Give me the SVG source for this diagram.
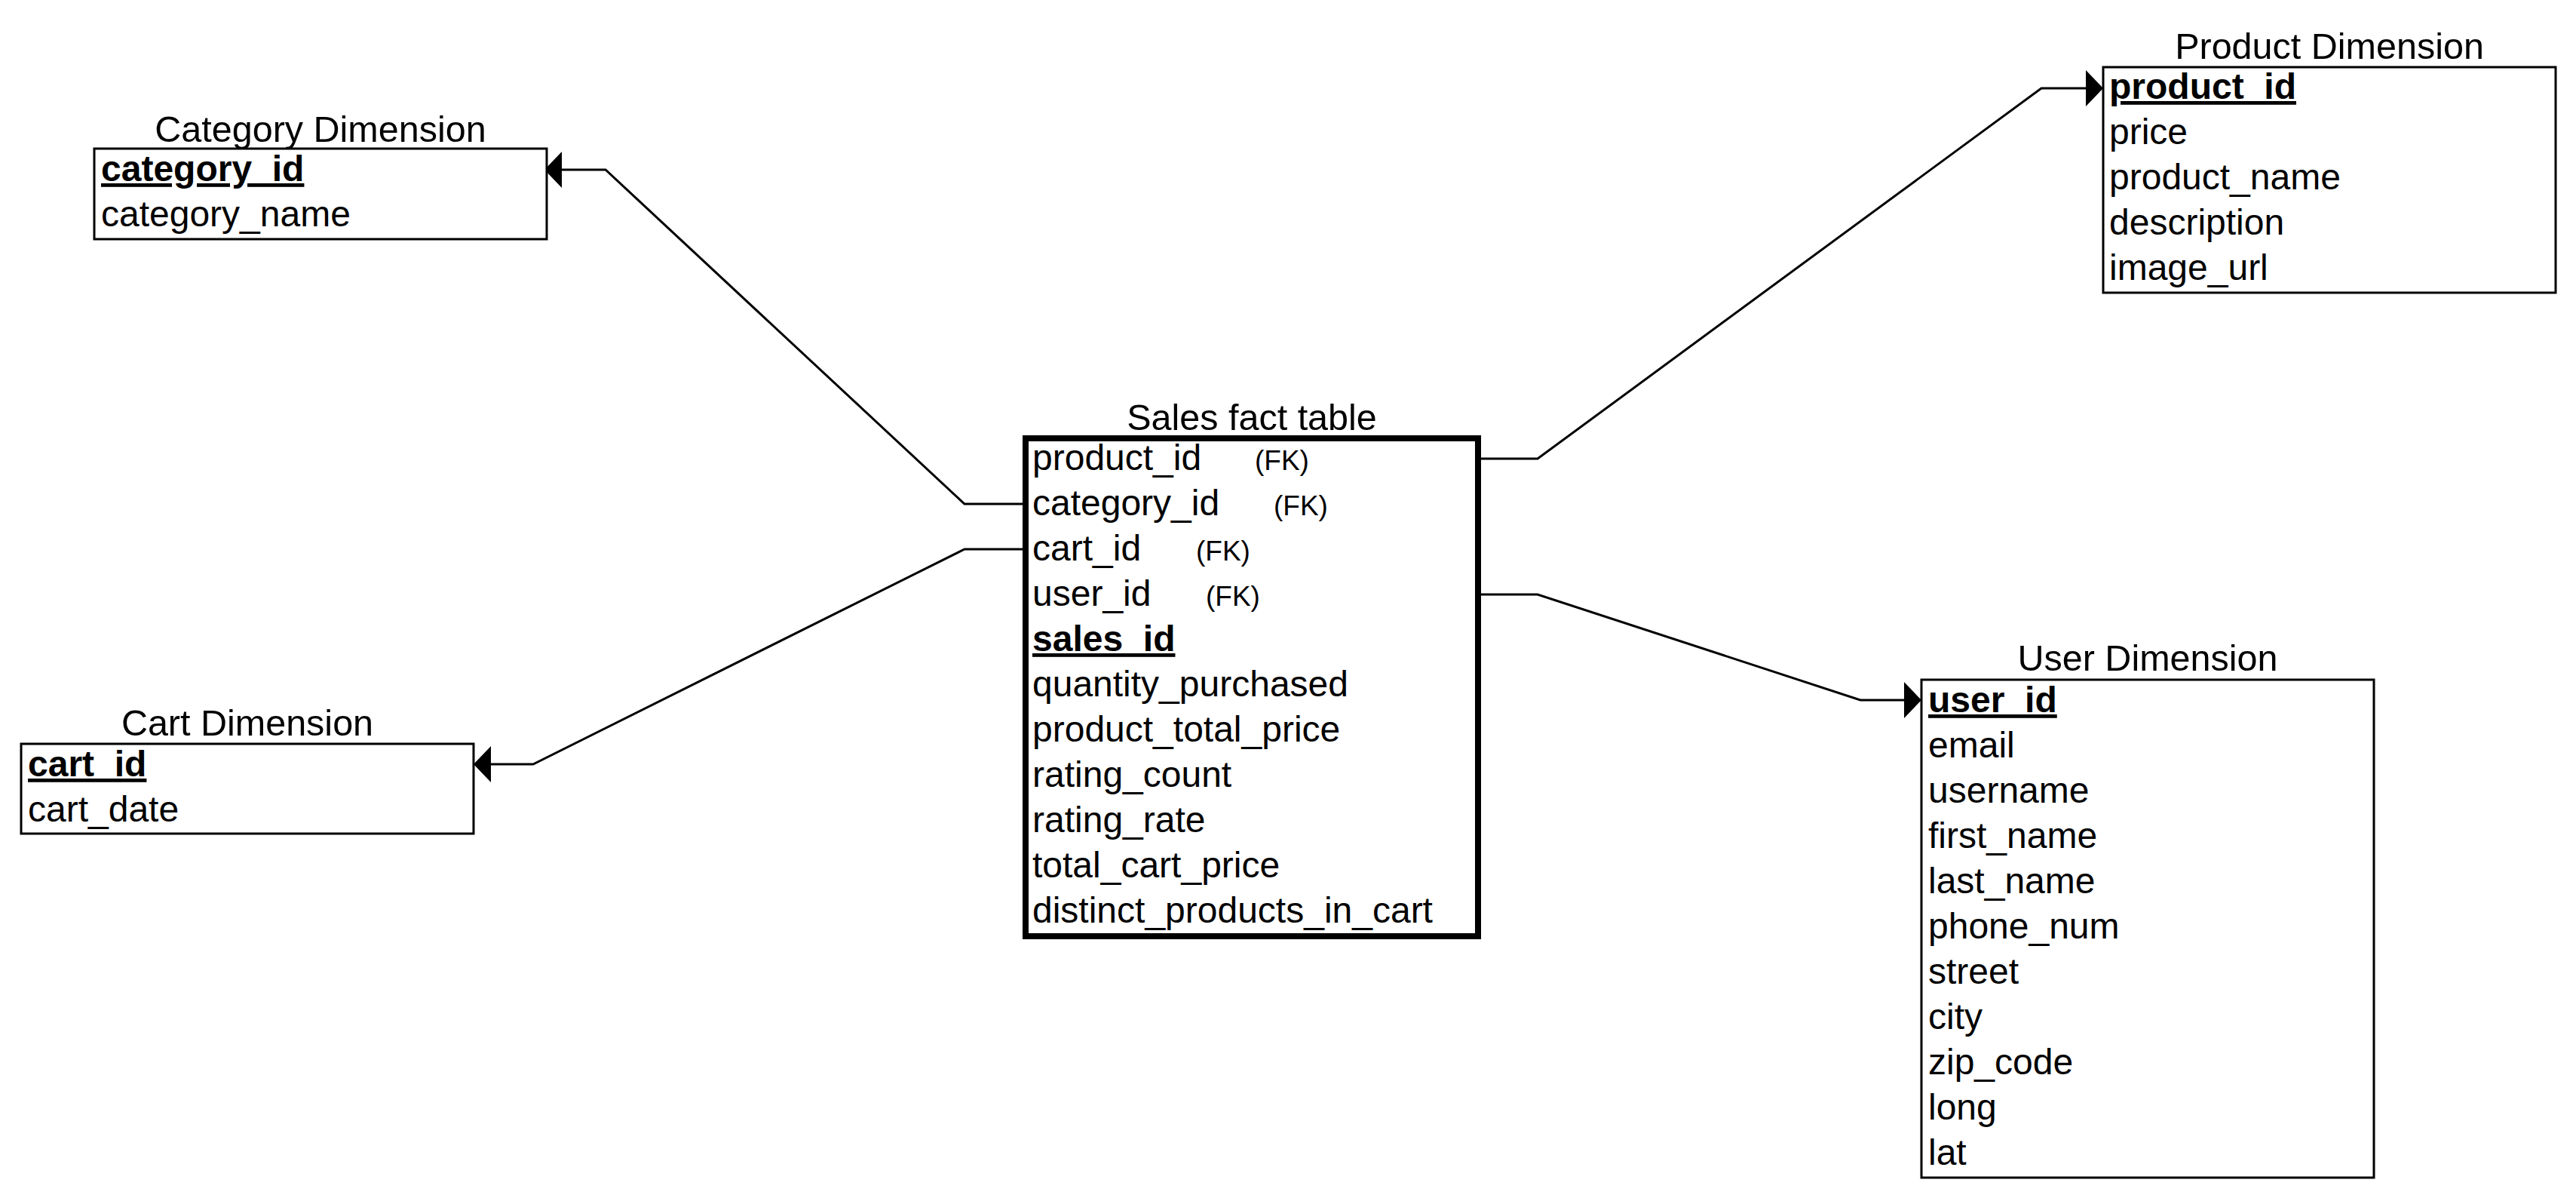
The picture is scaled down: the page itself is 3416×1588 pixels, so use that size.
<svg xmlns="http://www.w3.org/2000/svg" width="3416" height="1588" viewBox="0 0 3416 1588">
<style>
.box{fill:#fff;stroke:#000;stroke-width:3}
.fact{fill:#fff;stroke:#000;stroke-width:8}
.title{font-family:"Liberation Sans",Arial,sans-serif;font-size:48.5px;fill:#000;text-anchor:middle}
.row{font-family:"Liberation Sans",Arial,sans-serif;font-size:48px;fill:#000}
.pk{font-weight:bold;text-decoration:underline}
.fk{font-family:"Liberation Sans",Arial,sans-serif;font-size:37px;fill:#000}
.edge{fill:none;stroke:#000;stroke-width:3}
</style>
<defs>
<marker id="arrow" markerUnits="userSpaceOnUse" viewBox="0 0 23 48" refX="0" refY="24" markerWidth="23" markerHeight="48" orient="auto">
<path d="M0,0 L23,24 L0,48 Z" fill="#000"/>
</marker>
</defs>
<rect width="3416" height="1588" fill="#fff"/>

<g id="connectors">
<path class="edge" d="M1360,668 H1279 L803,225 H745" marker-end="url(#arrow)"/>
<path class="edge" d="M1360,728 H1279 L707,1013 H651" marker-end="url(#arrow)"/>
<path class="edge" d="M1960,608 H2039 L2707,117 H2766" marker-end="url(#arrow)"/>
<path class="edge" d="M1960,788 H2039 L2467,928 H2525" marker-end="url(#arrow)"/>
</g>

<g id="category-dimension">
<text class="title" x="425" y="188">Category Dimension</text>
<rect class="box" x="125" y="197" width="600" height="120"/>
<text class="row pk" x="134" y="240">category_id</text>
<text class="row" x="134" y="300">category_name</text>
</g>

<g id="cart-dimension">
<text class="title" x="328" y="975">Cart Dimension</text>
<rect class="box" x="28" y="986" width="600" height="119"/>
<text class="row pk" x="37" y="1029">cart_id</text>
<text class="row" x="37" y="1089">cart_date</text>
</g>

<g id="sales-fact-table">
<text class="title" x="1660" y="570">Sales fact table</text>
<rect class="fact" x="1360" y="581" width="600" height="660"/>
<text class="row" x="1369" y="623">product_id</text>
<text class="fk" x="1664" y="623">(FK)</text>
<text class="row" x="1369" y="683">category_id</text>
<text class="fk" x="1689" y="683">(FK)</text>
<text class="row" x="1369" y="743">cart_id</text>
<text class="fk" x="1586" y="743">(FK)</text>
<text class="row" x="1369" y="803">user_id</text>
<text class="fk" x="1599" y="803">(FK)</text>
<text class="row pk" x="1369" y="863">sales_id</text>
<text class="row" x="1369" y="923">quantity_purchased</text>
<text class="row" x="1369" y="983">product_total_price</text>
<text class="row" x="1369" y="1043">rating_count</text>
<text class="row" x="1369" y="1103">rating_rate</text>
<text class="row" x="1369" y="1163">total_cart_price</text>
<text class="row" x="1369" y="1223">distinct_products_in_cart</text>
</g>

<g id="product-dimension">
<text class="title" x="3089" y="78">Product Dimension</text>
<rect class="box" x="2789" y="89" width="600" height="299"/>
<text class="row pk" x="2797" y="131">product_id</text>
<text class="row" x="2797" y="191">price</text>
<text class="row" x="2797" y="251">product_name</text>
<text class="row" x="2797" y="311">description</text>
<text class="row" x="2797" y="371">image_url</text>
</g>

<g id="user-dimension">
<text class="title" x="2848" y="889">User Dimension</text>
<rect class="box" x="2548" y="901" width="600" height="660"/>
<text class="row pk" x="2557" y="944">user_id</text>
<text class="row" x="2557" y="1004">email</text>
<text class="row" x="2557" y="1064">username</text>
<text class="row" x="2557" y="1124">first_name</text>
<text class="row" x="2557" y="1184">last_name</text>
<text class="row" x="2557" y="1244">phone_num</text>
<text class="row" x="2557" y="1304">street</text>
<text class="row" x="2557" y="1364">city</text>
<text class="row" x="2557" y="1424">zip_code</text>
<text class="row" x="2557" y="1484">long</text>
<text class="row" x="2557" y="1544">lat</text>
</g>
</svg>
